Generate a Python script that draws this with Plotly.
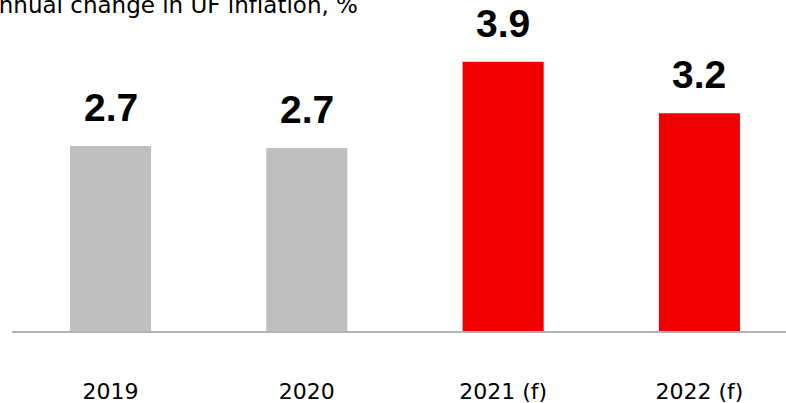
import plotly.graph_objects as go

categories = ["2019", "2020", "2021 (f)", "2022 (f)"]
values = [2.70, 2.67, 3.93, 3.18]
labels = ["2.7", "2.7", "3.9", "3.2"]
colors = ["#BFBFBF", "#BFBFBF", "#EE0000", "#EE0000"]
title_text = "Annual change in UF inflation, %"

W, H = 786, 403
ml, mr, mt, mb = 12, 0, 0, 72

fig = go.Figure()
fig.add_trace(go.Bar(
    x=list(range(len(categories))),
    y=values,
    marker=dict(color=colors, line=dict(width=0)),
    width=0.413,
    hoverinfo="skip",
))

for i, (v, lab) in enumerate(zip(values, labels)):
    fig.add_annotation(
        x=i, y=v, xref="x", yref="y", text=f"<b>{lab}</b>",
        showarrow=False, yanchor="bottom", xanchor="center", yshift=15,
        font=dict(family="Liberation Sans", size=39, color="#000000"),
    )

plot_w = W - ml - mr
fig.add_annotation(
    x=(-19 - ml) / plot_w, y=1, xref="paper", yref="paper",
    text=title_text, showarrow=False, xanchor="left", yanchor="top", yshift=10,
    font=dict(family="DejaVu Sans", size=23, color="#000000"),
)

fig.update_layout(
    width=W, height=H,
    margin=dict(l=ml, r=mr, t=mt, b=mb, pad=0, autoexpand=False),
    paper_bgcolor="white", plot_bgcolor="white",
    showlegend=False,
    hovermode=False,
    xaxis=dict(
        tickmode="array", tickvals=list(range(len(categories))), ticktext=categories,
        range=[-0.502, 3.441], showgrid=False, zeroline=False,
        showline=True, linecolor="#B3B3B3", linewidth=1.5,
        ticks="", ticklabelstandoff=40, automargin=False,
        tickfont=dict(family="DejaVu Sans", size=22, color="#000000"),
    ),
    yaxis=dict(range=[0, 4.832], visible=False, showgrid=False, zeroline=False,
               automargin=False),
)

fig.write_html(
    "out.html",
    config={"displayModeBar": False, "staticPlot": True},
    post_script="document.body.style.margin='0';document.body.style.overflow='hidden';",
)
